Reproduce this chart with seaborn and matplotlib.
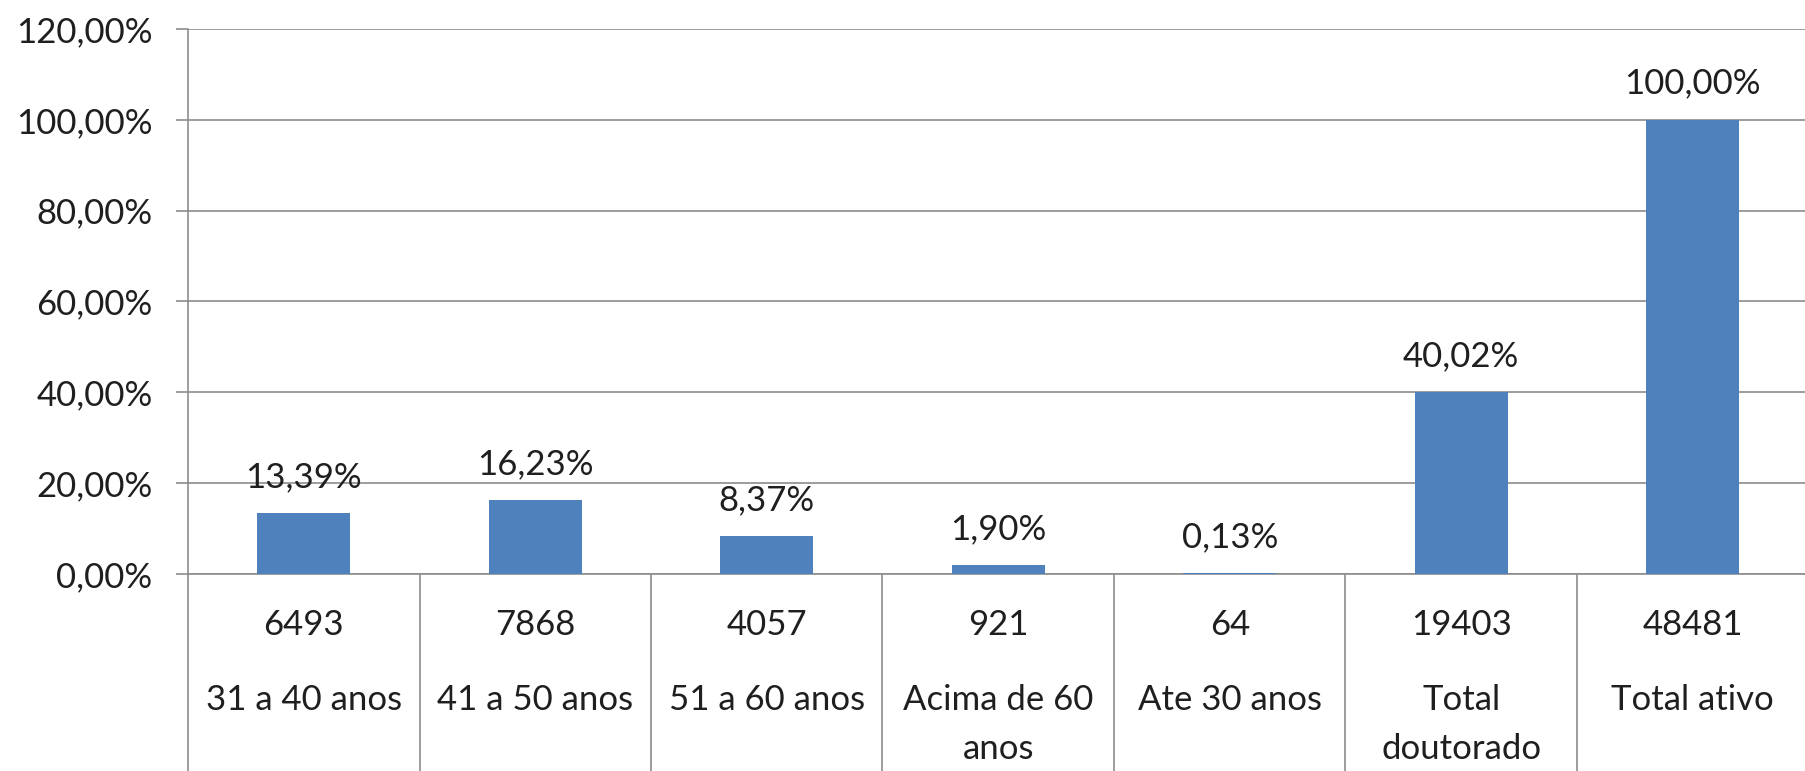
import numpy as np
import pandas as pd
import seaborn as sns
from matplotlib import pyplot as plt
from matplotlib import transforms
from matplotlib.ticker import FuncFormatter, MultipleLocator

# dados do gráfico
categorias = ['31 a 40 anos', '41 a 50 anos', '51 a 60 anos', 'Acima de 60\nanos',
              'Ate 30 anos', 'Total\ndoutorado', 'Total ativo']
quantidades = [6493, 7868, 4057, 921, 64, 19403, 48481]
percentuais = [0.1339, 0.1623, 0.0837, 0.0190, 0.0013, 0.4002, 1.0000]

df = pd.DataFrame({'categoria': categorias, 'pct': percentuais})

sns.set_style('white')
plt.rcParams['font.family'] = ['Lato', 'DejaVu Sans']

W, H = 1806, 771
fig = plt.figure(figsize=(W / 100, H / 100), dpi=100)
# eixo: esquerda 188px, topo (120%) 29px, base (0%) 574px
ax = fig.add_axes([188 / W, 1 - 574 / H, (W - 188) / W, (574 - 29) / H])

cor_barra = '#4F81BD'
cor_linha = '#8C8C8C'
cor_texto = '#1F1F1F'
fs = 25

sns.barplot(data=df, x='categoria', y='pct', color=cor_barra, saturation=1,
            width=0.4, linewidth=0, ax=ax, zorder=3)

ax.set_ylim(0, 1.2)
ax.set_xlim(-0.5, -0.5 + (W - 188) / 231.5)
ax.yaxis.set_major_locator(MultipleLocator(0.2))
ax.yaxis.set_major_formatter(FuncFormatter(lambda v, p: f'{v * 100:.2f}%'.replace('.', ',')))
ax.grid(axis='y', color=cor_linha, linewidth=1.2, zorder=0)
ax.set_axisbelow(True)
ax.tick_params(axis='y', length=8.6, width=1.2, color=cor_linha, pad=17,
               labelsize=fs, labelcolor=cor_texto, left=True)
ax.tick_params(axis='x', bottom=False, labelbottom=False)
ax.set_xlabel('')
ax.set_ylabel('')
for s in ['top', 'right', 'left']:
    ax.spines[s].set_visible(False)
ax.spines['bottom'].set_color(cor_linha)
ax.spines['bottom'].set_linewidth(1.2)

# rótulos de porcentagem acima das barras
for i, v in enumerate(percentuais):
    ax.annotate(f'{v * 100:.2f}%'.replace('.', ','), (i, v), xytext=(0, 26),
                textcoords='offset points', ha='center', va='center',
                fontsize=fs, color=cor_texto)

# tabela abaixo do eixo
tr = transforms.blended_transform_factory(ax.transData, fig.transFigure)
y_base = 1 - 574 / H
for xv in np.arange(-0.5, len(categorias) - 0.5, 1.0):
    ax.plot([xv, xv], [0, y_base], transform=tr, color=cor_linha,
            linewidth=1.2, clip_on=False)
ax.plot([-0.5, -0.5], [y_base, 1 - 29 / H], transform=tr, color=cor_linha,
        linewidth=1.2, clip_on=False)

for i, (n, c) in enumerate(zip(quantidades, categorias)):
    ax.text(i, 1 - 625 / H, str(n), transform=tr, ha='center', va='center',
            fontsize=fs, color=cor_texto)
    for j, linha in enumerate(c.split('\n')):
        ax.text(i, 1 - (700 + 49 * j) / H, linha, transform=tr, ha='center',
                va='center', fontsize=fs, color=cor_texto)

fig.savefig('out.png', dpi=100)
